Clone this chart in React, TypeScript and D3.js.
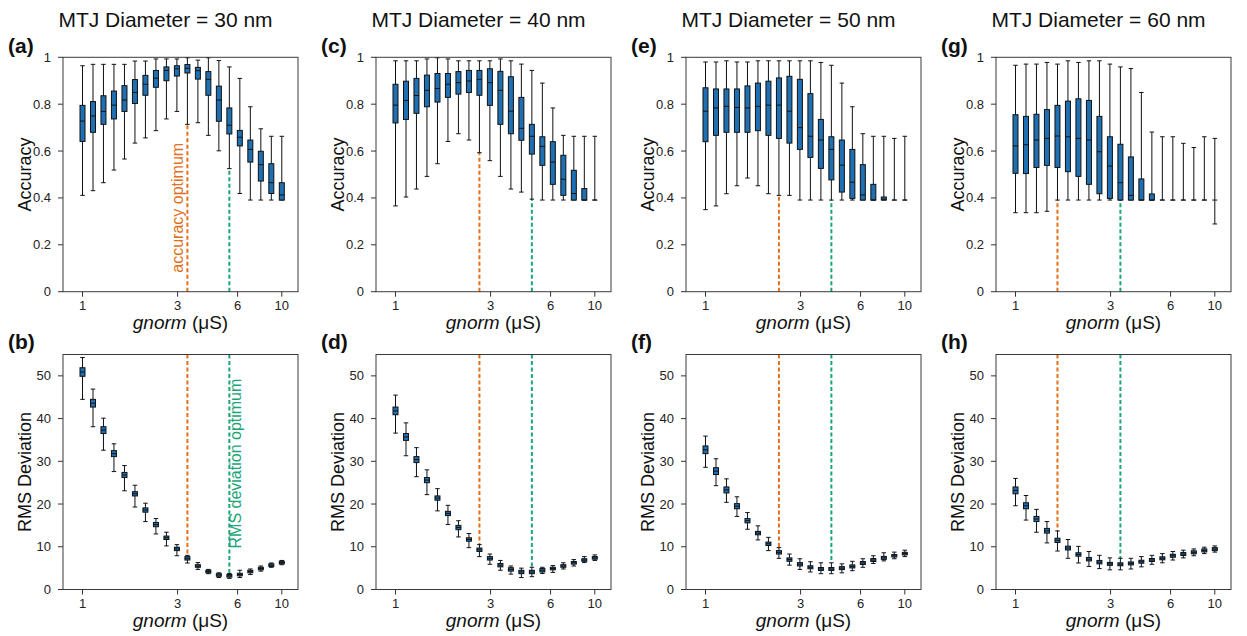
import React from "react";
import * as d3 from "d3";

// g_norm values (µS), log-spaced categories
const gNorm = [1.0, 1.129, 1.274, 1.438, 1.624, 1.833, 2.069, 2.336, 2.637, 2.976, 3.36, 3.793, 4.281, 4.833, 5.456, 6.158, 6.952, 7.848, 8.859, 10.0];
const diameters = [30, 40, 50, 60];
const topLabels = ["(a)", "(c)", "(e)", "(g)"];
const bottomLabels = ["(b)", "(d)", "(f)", "(h)"];
const xTickValues = [1, 3, 6, 10];
const accTicks = [0, 0.2, 0.4, 0.6, 0.8, 1];
const rmsTicks = [0, 10, 20, 30, 40, 50];

// Accuracy box plots: [whiskerLow, q1, median, q3, whiskerHigh]
const acc30 = [
  [0.411, 0.641, 0.728, 0.795, 0.964],
  [0.431, 0.68, 0.75, 0.811, 0.97],
  [0.465, 0.714, 0.769, 0.836, 0.97],
  [0.519, 0.737, 0.796, 0.856, 0.97],
  [0.566, 0.769, 0.818, 0.879, 0.97],
  [0.634, 0.803, 0.85, 0.905, 0.984],
  [0.656, 0.838, 0.885, 0.923, 0.984],
  [0.687, 0.872, 0.911, 0.944, 0.993],
  [0.737, 0.9, 0.944, 0.959, 0.993],
  [0.769, 0.92, 0.951, 0.964, 0.993],
  [0.714, 0.933, 0.953, 0.969, 0.998],
  [0.721, 0.907, 0.943, 0.957, 0.988],
  [0.667, 0.838, 0.906, 0.939, 0.998],
  [0.601, 0.727, 0.818, 0.877, 0.986],
  [0.525, 0.673, 0.71, 0.784, 0.959],
  [0.419, 0.622, 0.659, 0.688, 0.91],
  [0.391, 0.553, 0.607, 0.647, 0.789],
  [0.391, 0.472, 0.542, 0.599, 0.695],
  [0.391, 0.419, 0.465, 0.546, 0.663],
  [0.391, 0.391, 0.413, 0.465, 0.663],
];
const acc40 = [
  [0.366, 0.72, 0.796, 0.885, 0.985],
  [0.404, 0.735, 0.816, 0.898, 0.985],
  [0.438, 0.761, 0.837, 0.91, 0.985],
  [0.492, 0.789, 0.859, 0.924, 0.993],
  [0.546, 0.809, 0.867, 0.931, 0.998],
  [0.641, 0.829, 0.885, 0.931, 0.993],
  [0.674, 0.843, 0.892, 0.939, 0.985],
  [0.647, 0.85, 0.899, 0.944, 0.985],
  [0.593, 0.838, 0.906, 0.944, 0.985],
  [0.559, 0.795, 0.892, 0.951, 0.985],
  [0.492, 0.714, 0.859, 0.94, 0.993],
  [0.438, 0.674, 0.77, 0.917, 0.985],
  [0.425, 0.646, 0.697, 0.829, 0.971],
  [0.395, 0.587, 0.663, 0.714, 0.944],
  [0.391, 0.539, 0.62, 0.661, 0.89],
  [0.391, 0.458, 0.553, 0.64, 0.784],
  [0.391, 0.411, 0.48, 0.582, 0.667],
  [0.391, 0.391, 0.419, 0.518, 0.663],
  [0.391, 0.391, 0.391, 0.44, 0.663],
  [0.391, 0.391, 0.391, 0.391, 0.663],
];
const acc50 = [
  [0.35, 0.64, 0.77, 0.87, 0.98],
  [0.366, 0.667, 0.784, 0.865, 0.98],
  [0.418, 0.68, 0.791, 0.865, 0.985],
  [0.452, 0.68, 0.786, 0.865, 0.98],
  [0.485, 0.68, 0.784, 0.878, 0.98],
  [0.452, 0.687, 0.791, 0.89, 0.985],
  [0.418, 0.667, 0.796, 0.898, 0.985],
  [0.411, 0.654, 0.796, 0.912, 0.985],
  [0.411, 0.634, 0.77, 0.919, 0.985],
  [0.391, 0.607, 0.7, 0.906, 0.985],
  [0.391, 0.573, 0.663, 0.845, 0.985],
  [0.391, 0.526, 0.647, 0.735, 0.978],
  [0.391, 0.477, 0.607, 0.661, 0.966],
  [0.391, 0.425, 0.54, 0.647, 0.89],
  [0.391, 0.398, 0.467, 0.607, 0.789],
  [0.391, 0.391, 0.413, 0.542, 0.674],
  [0.391, 0.391, 0.391, 0.458, 0.663],
  [0.391, 0.391, 0.395, 0.404, 0.663],
  [0.391, 0.391, 0.391, 0.391, 0.654],
  [0.391, 0.391, 0.391, 0.391, 0.663],
];
const acc60 = [
  [0.337, 0.505, 0.622, 0.755, 0.966],
  [0.337, 0.504, 0.627, 0.748, 0.971],
  [0.337, 0.53, 0.647, 0.757, 0.971],
  [0.343, 0.539, 0.654, 0.777, 0.978],
  [0.391, 0.53, 0.664, 0.795, 0.971],
  [0.391, 0.512, 0.661, 0.813, 0.985],
  [0.391, 0.492, 0.654, 0.823, 0.978],
  [0.391, 0.458, 0.647, 0.816, 0.985],
  [0.391, 0.418, 0.597, 0.748, 0.985],
  [0.391, 0.398, 0.536, 0.661, 0.971],
  [0.391, 0.391, 0.465, 0.629, 0.959],
  [0.391, 0.391, 0.411, 0.575, 0.952],
  [0.391, 0.391, 0.391, 0.481, 0.85],
  [0.391, 0.391, 0.391, 0.417, 0.681],
  [0.391, 0.391, 0.391, 0.391, 0.661],
  [0.391, 0.391, 0.391, 0.391, 0.661],
  [0.391, 0.391, 0.391, 0.391, 0.633],
  [0.391, 0.391, 0.391, 0.391, 0.615],
  [0.391, 0.391, 0.391, 0.391, 0.661],
  [0.289, 0.391, 0.391, 0.391, 0.654],
];

// RMS deviation box plots: [low, q1, median, q3, high]
const rms30 = [
  [44.5, 49.9, 50.9, 51.9, 54.3],
  [38.1, 42.7, 43.6, 44.5, 46.9],
  [32.6, 36.5, 37.3, 38.1, 40.1],
  [27.6, 31.1, 31.8, 32.5, 34.1],
  [23.1, 26.2, 26.8, 27.4, 29.0],
  [19.3, 21.9, 22.4, 22.9, 24.4],
  [15.9, 18.1, 18.6, 19.1, 20.2],
  [13.0, 14.7, 15.2, 15.7, 16.6],
  [10.2, 11.7, 12.1, 12.5, 13.4],
  [7.9, 9.1, 9.5, 9.9, 10.5],
  [6.2, 6.9, 7.3, 7.7, 8.0],
  [4.7, 5.2, 5.5, 5.8, 6.3],
  [3.7, 3.9, 4.2, 4.5, 4.7],
  [2.8, 3.1, 3.4, 3.7, 3.9],
  [2.6, 2.9, 3.2, 3.5, 3.75],
  [2.8, 3.2, 3.5, 3.8, 4.5],
  [3.5, 3.9, 4.2, 4.5, 4.8],
  [4.3, 4.6, 4.9, 5.2, 5.5],
  [5.2, 5.4, 5.7, 6.0, 6.2],
  [5.8, 6.0, 6.3, 6.6, 6.8],
];
const rms40 = [
  [36.6, 40.9, 41.8, 42.7, 45.5],
  [31.3, 34.9, 35.7, 36.5, 39.0],
  [26.4, 29.7, 30.4, 31.1, 33.2],
  [22.2, 25.0, 25.6, 26.2, 28.0],
  [18.4, 20.9, 21.4, 21.9, 23.6],
  [15.2, 17.3, 17.8, 18.3, 19.7],
  [12.3, 14.0, 14.5, 15.0, 16.1],
  [9.8, 11.3, 11.7, 12.1, 13.1],
  [7.7, 8.9, 9.3, 9.7, 10.5],
  [5.9, 6.9, 7.3, 7.7, 8.3],
  [4.5, 5.3, 5.7, 6.1, 6.8],
  [3.6, 4.3, 4.7, 5.1, 5.5],
  [2.8, 3.7, 4.1, 4.5, 5.0],
  [3.0, 3.7, 4.1, 4.5, 5.2],
  [3.75, 4.1, 4.5, 4.9, 5.2],
  [4.0, 4.6, 4.9, 5.2, 5.6],
  [4.8, 5.2, 5.5, 5.8, 6.25],
  [5.5, 5.95, 6.25, 6.55, 7.0],
  [6.3, 6.6, 6.9, 7.2, 7.7],
  [6.8, 7.1, 7.4, 7.7, 8.1],
];
const rms50 = [
  [28.6, 31.8, 32.7, 33.6, 35.9],
  [24.3, 26.9, 27.7, 28.5, 30.6],
  [20.4, 22.6, 23.3, 24.0, 25.9],
  [17.1, 18.9, 19.5, 20.1, 21.7],
  [14.1, 15.6, 16.1, 16.6, 18.0],
  [11.6, 12.8, 13.2, 13.6, 14.9],
  [9.1, 10.3, 10.7, 11.1, 12.2],
  [7.3, 8.3, 8.7, 9.1, 9.8],
  [5.7, 6.6, 7.0, 7.4, 8.3],
  [4.7, 5.5, 5.9, 6.3, 7.2],
  [4.1, 4.85, 5.2, 5.55, 6.5],
  [3.7, 4.45, 4.8, 5.15, 6.25],
  [3.7, 4.45, 4.8, 5.15, 6.25],
  [3.9, 4.65, 5.0, 5.35, 6.0],
  [4.4, 5.05, 5.4, 5.75, 6.6],
  [5.2, 5.85, 6.2, 6.55, 7.2],
  [6.1, 6.55, 6.9, 7.25, 7.9],
  [6.7, 7.05, 7.4, 7.75, 8.6],
  [7.2, 7.6, 7.9, 8.2, 8.75],
  [7.7, 8.1, 8.4, 8.7, 9.2],
];
const rms60 = [
  [19.6, 22.4, 23.2, 24.0, 26.0],
  [16.25, 18.9, 19.6, 20.3, 22.0],
  [13.4, 15.9, 16.5, 17.1, 18.75],
  [10.9, 13.2, 13.75, 14.3, 15.9],
  [9.0, 11.0, 11.5, 12.0, 13.7],
  [7.3, 9.25, 9.7, 10.15, 11.7],
  [6.2, 7.8, 8.2, 8.6, 10.1],
  [5.4, 6.7, 7.1, 7.5, 8.9],
  [4.9, 6.0, 6.4, 6.8, 8.0],
  [4.6, 5.65, 6.0, 6.35, 7.4],
  [4.6, 5.55, 5.9, 6.25, 7.3],
  [4.8, 5.75, 6.1, 6.45, 7.3],
  [5.3, 6.15, 6.5, 6.85, 7.7],
  [5.9, 6.55, 6.9, 7.25, 8.0],
  [6.25, 6.95, 7.3, 7.65, 8.4],
  [6.9, 7.55, 7.9, 8.25, 8.9],
  [7.4, 7.95, 8.3, 8.65, 9.2],
  [7.9, 8.35, 8.7, 9.05, 9.5],
  [8.4, 8.8, 9.15, 9.5, 9.9],
  [8.75, 9.1, 9.45, 9.8, 10.2],
];

const accuracyData = [acc30, acc40, acc50, acc60];
const rmsData = [rms30, rms40, rms50, rms60];
// index into gNorm of the optimum
const accuracyOptimumIdx = [10, 8, 7, 4];
const rmsOptimumIdx = [14, 13, 12, 10];

const FONT = "'Liberation Sans', Arial, Helvetica, sans-serif";
const BOX_FILL = "#1f70b3";
const ORANGE = "#e2701c";
const GREEN = "#1aa57b";

const colLefts = [63, 376, 686, 996];
const PW = 235;
const TOP_Y = 57.3;
const TOP_H = 234.4;
const BOT_Y = 354.5;
const BOT_H = 235;

type Props = {
  left: number;
  top: number;
  height: number;
  data: number[][];
  yDomain: [number, number];
  yTicks: number[];
  yLabel: string;
  tickFmt: (v: number) => string;
  label: string;
  orangeIdx: number;
  greenIdx: number;
  isTop: boolean;
  showAccText: boolean;
  showRmsText: boolean;
};

function Panel(p: Props) {
  const x = d3.scaleLog().domain([1, 10]).range([p.left + 19.5, p.left + 218.8]);
  const y = d3.scaleLinear().domain(p.yDomain).range([p.top + p.height, p.top]);
  const bottom = p.top + p.height;
  const bw = 5;
  const cw = 4.5;
  const ox = x(gNorm[p.orangeIdx]);
  const gx = x(gNorm[p.greenIdx]);
  const oEnd = p.isTop ? y(p.data[p.orangeIdx][0]) : y(p.data[p.orangeIdx][4]);
  const gEnd = p.isTop ? y(p.data[p.greenIdx][0]) : y(p.data[p.greenIdx][4]);
  return (
    <g>
      {/* dashed optimum lines */}
      {p.isTop ? (
        <>
          <line x1={ox} x2={ox} y1={bottom} y2={oEnd} stroke={ORANGE} strokeWidth={2} strokeDasharray="4,2.5" />
          <line x1={gx} x2={gx} y1={bottom} y2={gEnd} stroke={GREEN} strokeWidth={2} strokeDasharray="4,2.5" />
        </>
      ) : (
        <>
          <line x1={ox} x2={ox} y1={p.top} y2={oEnd} stroke={ORANGE} strokeWidth={2} strokeDasharray="4,2.5" />
          <line x1={gx} x2={gx} y1={p.top} y2={gEnd} stroke={GREEN} strokeWidth={2} strokeDasharray="4,2.5" />
        </>
      )}
      {p.showAccText && (
        <text
          transform={`translate(${ox - 4},${bottom - 19}) rotate(-90)`}
          fontFamily={FONT}
          fontSize={16}
          fill={ORANGE}
        >
          accuracy optimum
        </text>
      )}
      {p.showRmsText && (
        <text
          transform={`translate(${gx + 11.5},${p.top + 194}) rotate(-90)`}
          fontFamily={FONT}
          fontSize={16}
          fill={GREEN}
        >
          RMS deviation optimum
        </text>
      )}
      {/* box plots */}
      {p.data.map((d, i) => {
        const cx = x(gNorm[i]);
        const [lo, q1, med, q3, hi] = d;
        const hasBox = y(q1) - y(q3) > 0.5;
        return (
          <g key={i}>
            <line x1={cx} x2={cx} y1={y(lo)} y2={y(hi)} stroke="#111" strokeWidth={1} />
            <line x1={cx - cw / 2} x2={cx + cw / 2} y1={y(lo)} y2={y(lo)} stroke="#111" strokeWidth={1} />
            <line x1={cx - cw / 2} x2={cx + cw / 2} y1={y(hi)} y2={y(hi)} stroke="#111" strokeWidth={1} />
            {hasBox && (
              <rect x={cx - bw / 2} y={y(q3)} width={bw} height={y(q1) - y(q3)} fill={BOX_FILL} stroke="#111" strokeWidth={1} />
            )}
            <line x1={cx - bw / 2} x2={cx + bw / 2} y1={y(med)} y2={y(med)} stroke="#111" strokeWidth={1} />
          </g>
        );
      })}
      {/* frame */}
      <rect x={p.left} y={p.top} width={PW} height={p.height} fill="none" stroke="#3a3a3a" strokeWidth={1} />
      {/* y ticks */}
      {p.yTicks.map((t) => (
        <g key={t}>
          <line x1={p.left - 5} x2={p.left} y1={y(t)} y2={y(t)} stroke="#333" strokeWidth={1} />
          <text x={p.left - 12} y={y(t)} dy="0.35em" textAnchor="end" fontFamily={FONT} fontSize={13} fill="#222">
            {p.tickFmt(t)}
          </text>
        </g>
      ))}
      {/* x ticks */}
      {xTickValues.map((t) => (
        <g key={t}>
          <line x1={x(t)} x2={x(t)} y1={bottom} y2={bottom + 5} stroke="#333" strokeWidth={1} />
          <text x={x(t)} y={bottom + 18.5} textAnchor="middle" fontFamily={FONT} fontSize={13} fill="#222">
            {t}
          </text>
        </g>
      ))}
      {/* axis labels */}
      <text
        transform={`translate(${p.left - 32},${p.top + p.height / 2}) rotate(-90)`}
        textAnchor="middle"
        fontFamily={FONT}
        fontSize={18}
        fill="#111"
      >
        {p.yLabel}
      </text>
      <text x={p.left + PW / 2} y={bottom + 37.5} textAnchor="middle" fontFamily={FONT} fontSize={19} fill="#111">
        <tspan fontStyle="italic">gnorm</tspan> (μS)
      </text>
      <text x={p.left - 55} y={p.isTop ? 53 : 349} fontFamily={FONT} fontSize={21} fontWeight="bold" fill="#111">
        {p.label}
      </text>
    </g>
  );
}

export default function App() {
  return (
    <svg
      width={1247}
      height={636}
      style={{ position: "absolute", left: 0, top: 0, background: "#fff" }}
    >
      <rect width={1247} height={636} fill="#fff" />
      {diameters.map((dia, c) => (
        <g key={dia}>
          <text
            x={colLefts[c] + PW / 2 - 15}
            y={27}
            textAnchor="middle"
            fontFamily={FONT}
            fontSize={21}
            fill="#111"
          >
            {`MTJ Diameter = ${dia} nm`}
          </text>
          <Panel
            left={colLefts[c]}
            top={TOP_Y}
            height={TOP_H}
            data={accuracyData[c]}
            yDomain={[0, 1]}
            yTicks={accTicks}
            yLabel="Accuracy"
            tickFmt={(v) => (v === 0 || v === 1 ? String(v) : v.toFixed(1))}
            label={topLabels[c]}
            orangeIdx={accuracyOptimumIdx[c]}
            greenIdx={rmsOptimumIdx[c]}
            isTop={true}
            showAccText={c === 0}
            showRmsText={false}
          />
          <Panel
            left={colLefts[c]}
            top={BOT_Y}
            height={BOT_H}
            data={rmsData[c]}
            yDomain={[0, 55]}
            yTicks={rmsTicks}
            yLabel="RMS Deviation"
            tickFmt={(v) => String(v)}
            label={bottomLabels[c]}
            orangeIdx={accuracyOptimumIdx[c]}
            greenIdx={rmsOptimumIdx[c]}
            isTop={false}
            showAccText={false}
            showRmsText={c === 0}
          />
        </g>
      ))}
    </svg>
  );
}
